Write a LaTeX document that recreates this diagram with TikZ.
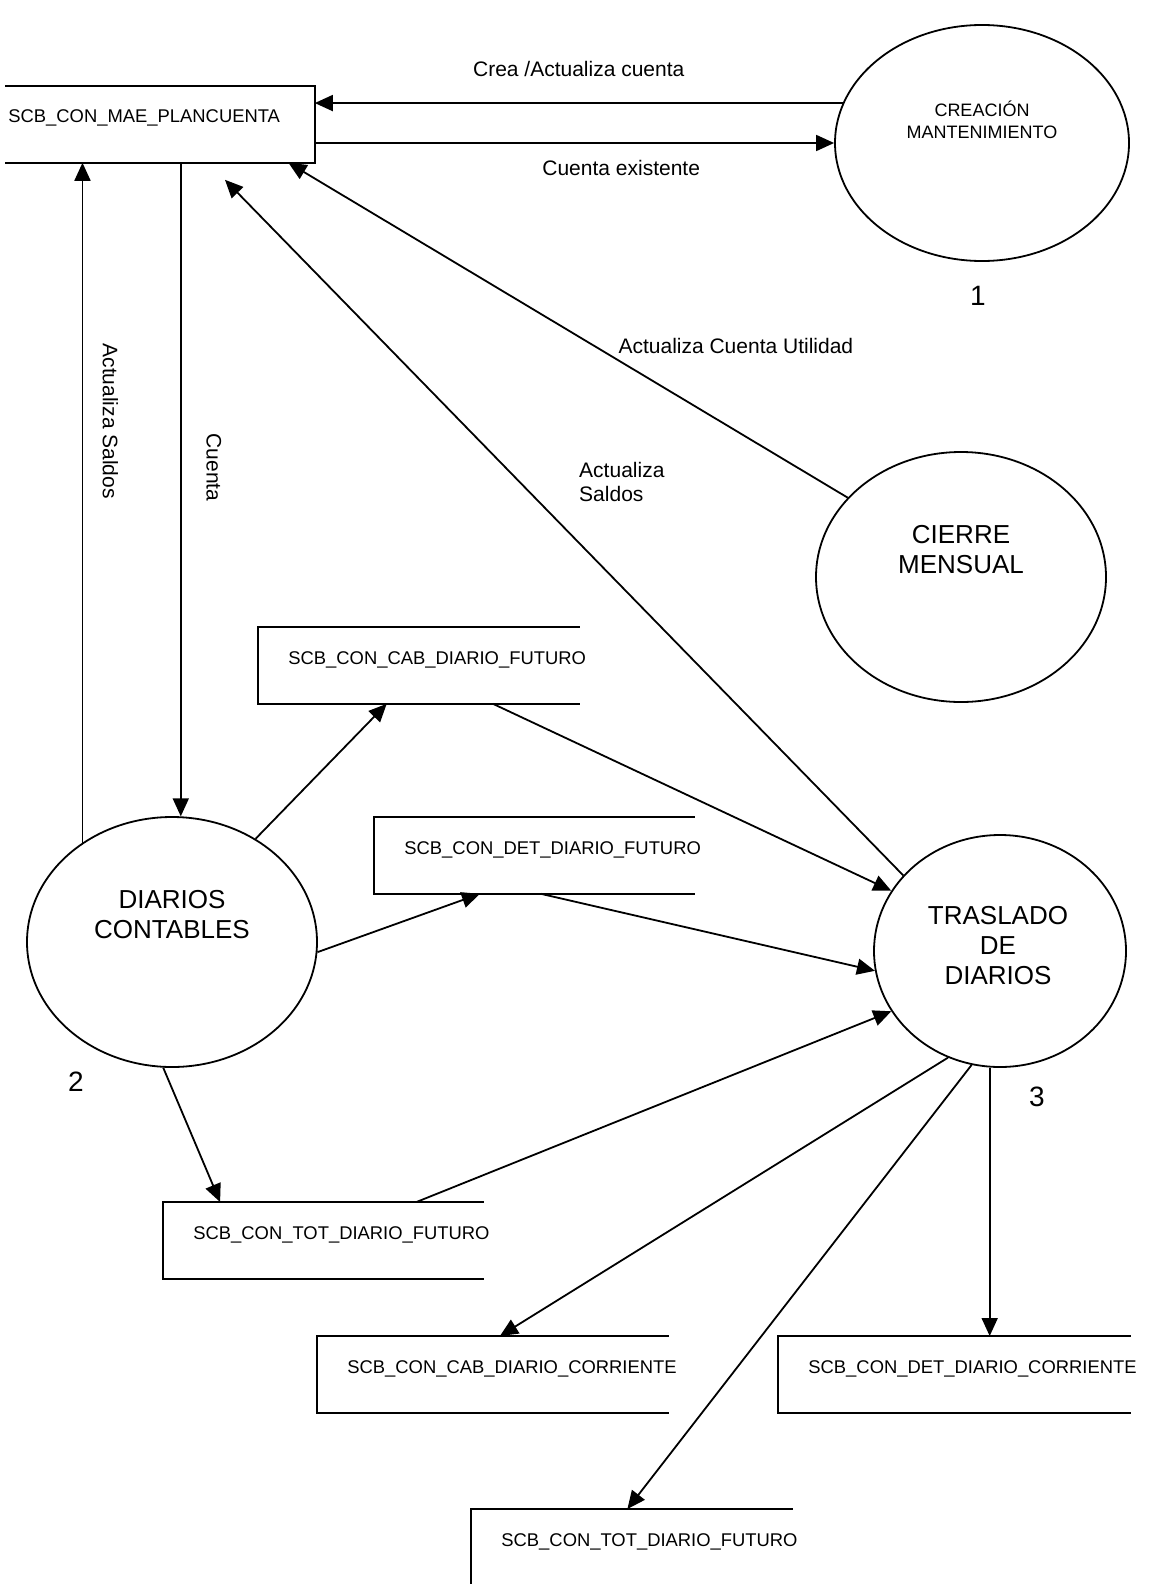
\documentclass[tikz,border=0pt]{standalone}
\usepackage{fontspec}
\setmainfont{Liberation Sans}
\usetikzlibrary{calc,positioning,arrows.meta,shapes.geometric}

\tikzset{
  proc/.style={ellipse, draw, line width=0.9pt, inner sep=0pt},
  ptext/.style={font=\fontsize{13}{15}\selectfont, align=center},
  pnum/.style={font=\fontsize{14}{16}\selectfont},
  store/.style={rectangle, anchor=north west, inner sep=0pt, align=left,
    font=\fontsize{9.2}{11}\selectfont, text height=18.3pt, text depth=19.7pt,
    execute at begin node={\noindent\hspace*{#1}}},
  store/.default=15pt,
  flow/.style={line width=0.9pt, -{Triangle[length=9pt,width=8pt]}},
  lbl/.style={font=\fontsize{10.5}{12}\selectfont, inner sep=0pt}
}

\begin{document}
\begin{tikzpicture}[x=0.5pt, y=-0.5pt]
  \useasboundingbox (0,0) rectangle (1152,1584);

  % Processes
  \node[proc, minimum width=147pt, minimum height=118pt] (crea) at (982,143) {};
  \node[proc, minimum width=145pt, minimum height=125pt] (diarios) at (172,942) {};
  \node[proc, minimum width=145pt, minimum height=125pt] (cierre) at (961,577) {};
  \node[proc, minimum width=126pt, minimum height=116pt] (traslado) at (1000,951) {};

  % Process texts
  \node[ptext, font=\fontsize{9}{11}\selectfont] (creat) at (982,120) {CREACIÓN\\MANTENIMIENTO};
  \node[ptext] (diariost) at (172,915) {DIARIOS\\CONTABLES};
  \node[ptext] (cierret) at (961,550) {CIERRE\\MENSUAL};
  \node[ptext] (trasladot) at (998,946) {TRASLADO\\DE\\DIARIOS};

  % Process numbers
  \node[pnum] (n1) at (978,296) {1};
  \node[pnum] (n2) at (76,1082) {2};
  \node[pnum] (n3) at (1037,1097) {3};

  % Data stores
  \node[store=1.5pt, text width=154.5pt] (mae) at (5,86) {SCB\_CON\_MAE\_PLANCUENTA};
  \node[store, text width=160.5pt] (cabf) at (258,627) {SCB\_CON\_CAB\_DIARIO\_FUTURO};
  \node[store, text width=160pt] (detf) at (374,817) {SCB\_CON\_DET\_DIARIO\_FUTURO};
  \node[store, text width=160pt] (totf) at (163,1202) {SCB\_CON\_TOT\_DIARIO\_FUTURO};
  \node[store, text width=175.5pt] (cabc) at (317,1336) {SCB\_CON\_CAB\_DIARIO\_CORRIENTE};
  \node[store, text width=176pt] (detc) at (778,1336) {SCB\_CON\_DET\_DIARIO\_CORRIENTE};
  \node[store, text width=160.5pt] (tot2) at (471,1509) {SCB\_CON\_TOT\_DIARIO\_FUTURO};

  \draw[line width=0.9pt] (mae.north west) -- (mae.north east) -- (mae.south east) -- (mae.south west);
  \foreach \s in {cabf,detf,totf,cabc,detc,tot2}
    \draw[line width=0.9pt] (\s.north east) -- (\s.north west) -- (\s.south west) -- (\s.south east);

  % Creacion <-> plan de cuentas
  \draw[flow] (crea.164) -- (crea.164 -| mae.east)
    node[lbl, midway, yshift=17pt] {Crea /Actualiza cuenta};
  \draw[flow] (mae.east |- crea.west) -- (crea.west)
    node[lbl, pos=0.59, yshift=-12.5pt] {Cuenta existente};

  % Diarios contables <-> plan de cuentas
  \draw[flow] (diarios.132) -- (diarios.132 |- mae.south)
    node[lbl, pos=0.62, xshift=14pt, rotate=-90] {Actualiza Saldos};
  \draw[flow] (diarios.86 |- mae.south) -- (diarios.86)
    node[lbl, pos=0.466, xshift=16.5pt, rotate=-90] {Cuenta};

  % Traslado y cierre -> plan de cuentas
  \coordinate (maesal) at ($(mae.south west)!0.71!(mae.south east)+(0,17)$);
  \draw[flow] (traslado.142) -- (maesal)
    node[lbl, pos=0.566, anchor=west, xshift=29.5pt, align=left] {Actualiza\\Saldos};
  \draw[flow] (cierre.145) -- ($(mae.south west)!0.915!(mae.south east)$)
    node[lbl, pos=0.2, yshift=42.5pt] {Actualiza Cuenta Utilidad};

  % Diarios contables -> archivos futuros
  \draw[flow] (diarios.51) -- ($(cabf.south west)!0.4!(cabf.south east)$);
  \draw[flow] (diarios.356) -- ($(detf.south west)!0.33!(detf.south east)$);
  \draw[flow] (diarios.266) -- ($(totf.north west)!0.178!(totf.north east)$);

  % Archivos futuros -> traslado
  \draw[flow] ($(cabf.south west)!0.73!(cabf.south east)$) -- (traslado.151);
  \draw[flow] ($(detf.south west)!0.52!(detf.south east)$) -- (traslado.189);
  \draw[flow] ($(totf.north west)!0.79!(totf.north east)$) -- (traslado.209);

  % Traslado -> archivos corrientes
  \draw[flow] (traslado.244) -- ($(cabc.north west)!0.52!(cabc.north east)$);
  \draw[flow] (traslado.256) -- ($(tot2.north west)!0.486!(tot2.north east)$);
  \coordinate (detcin) at ($(detc.north west)!0.6!(detc.north east)$);
  \draw[flow] (detcin |- traslado.south) -- (detcin);

\end{tikzpicture}
\end{document}
